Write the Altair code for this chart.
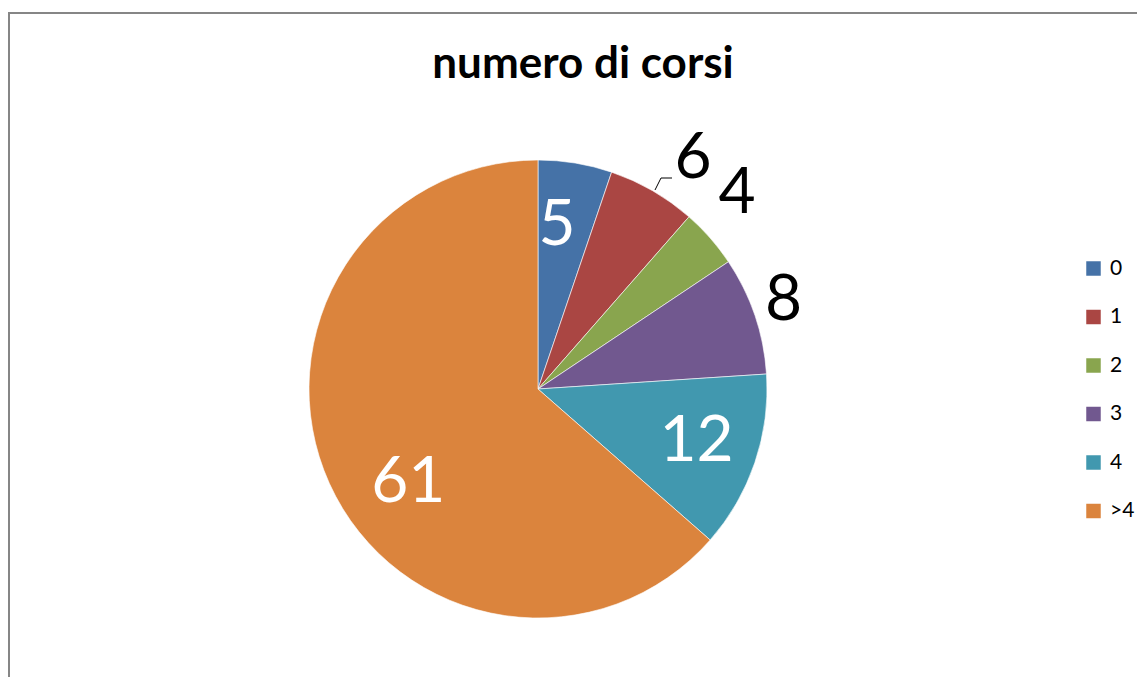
import altair as alt
import pandas as pd

# ---- data ----
categories = ["0", "1", "2", "3", "4", ">4"]
values = [5, 6, 4, 8, 12, 61]
colors = ["#4572A7", "#AA4643", "#89A54E", "#71588F", "#4198AF", "#DB843D"]
title_text = "numero di corsi"

df = pd.DataFrame({"categoria": categories, "valore": values, "ordine": list(range(len(categories)))})

W, H = 1129, 669
CX, CY = 530, 381
R = 229
FONT = "Lato"
LABEL_SIZE = 64

base = alt.Chart(df).encode(
    theta=alt.Theta("valore:Q", stack=True),
    order=alt.Order("ordine:Q"),
)

pie = base.mark_arc(outerRadius=R, stroke="white", strokeWidth=0.6).encode(
    x=alt.value(CX),
    y=alt.value(CY),
    color=alt.Color(
        "categoria:N",
        scale=alt.Scale(domain=categories, range=colors),
        sort=categories,
        legend=alt.Legend(
            title=None,
            orient="none",
            legendX=1075,
            legendY=250,
            symbolType="square",
            symbolSize=210,
            symbolStrokeWidth=0,
            labelFont=FONT,
            labelFontSize=21,
            labelColor="black",
            labelOffset=6,
            rowPadding=26.5,
        ),
    ),
)

# label style: (radius, dx, dy, colour) per category
label_style = {
    "0": (160, -7, -9, "white"),
    "1": (270, 20, 0, "black"),
    "2": (270, -4, -21, "black"),
    "3": (270, -10, -5, "black"),
    "4": (160, 7, -2, "white"),
    ">4": (160, 16, 24, "white"),
}

label_layers = []
for cat, (rad, ddx, ddy, col) in label_style.items():
    label_layers.append(
        base.mark_text(
            radius=rad,
            dx=ddx,
            dy=ddy + 23,
            font=FONT,
            fontSize=LABEL_SIZE,
            baseline="alphabetic",
            align="center",
            fill=col,
        ).encode(
            x=alt.value(CX),
            y=alt.value(CY),
            text=alt.Text("valore:Q"),
            opacity=alt.condition(
                alt.FieldEqualPredicate(field="categoria", equal=cat),
                alt.value(1),
                alt.value(0),
            ),
        )
    )

one = pd.DataFrame({"k": [0]})

title = alt.Chart(one).mark_text(
    font=FONT, fontSize=44, fontWeight="bold", baseline="alphabetic", align="center", color="black"
).encode(x=alt.value(575), y=alt.value(70), text=alt.value(title_text))

border = alt.Chart(one).mark_rect(fill=None, stroke="#868686", strokeWidth=2).encode(
    x=alt.value(1), x2=alt.value(2000), y=alt.value(5), y2=alt.value(2000)
)

leader1 = alt.Chart(one).mark_rule(color="black", strokeWidth=1).encode(
    x=alt.value(647), x2=alt.value(653), y=alt.value(182), y2=alt.value(170)
)
leader2 = alt.Chart(one).mark_rule(color="black", strokeWidth=1).encode(
    x=alt.value(653), x2=alt.value(664), y=alt.value(170), y2=alt.value(170)
)

chart = alt.layer(border, pie, *label_layers, leader1, leader2, title).properties(
    width=W,
    height=H,
    autosize=alt.AutoSizeParams(type="none"),
    padding=0,
    background="white",
).configure_view(stroke=None)

chart.save("out.html", embed_options={"renderer": "svg", "actions": False})
